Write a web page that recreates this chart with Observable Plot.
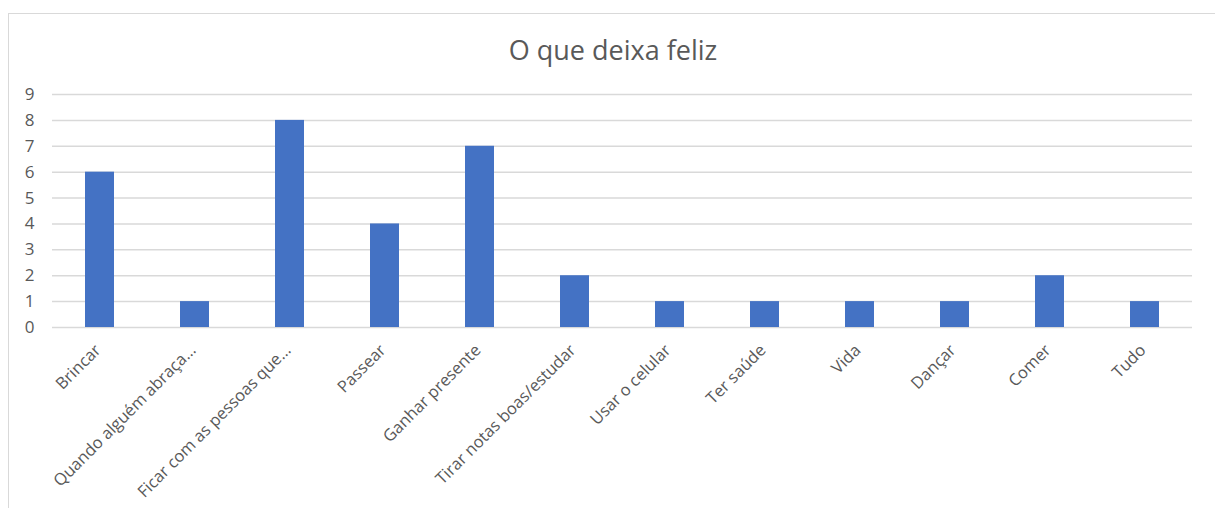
<!DOCTYPE html>
<html>
<head>
<meta charset="utf-8">
<script src="https://cdn.jsdelivr.net/npm/d3@7"></script>
<script src="https://cdn.jsdelivr.net/npm/@observablehq/plot@0.6"></script>
<style>
  html, body { margin: 0; padding: 0; background: #fff; overflow: hidden; }
  #frame { position: absolute; left: 8px; top: 13px; width: 1300px; height: 600px;
           border-top: 1.5px solid #d9d9d9; border-left: 1.5px solid #d9d9d9; box-sizing: border-box; }
  #title { position: absolute; left: 0; top: 36px; width: 1226px; height: 27px; text-align: center;
           font-family: "Open Sans", sans-serif; font-size: 27px; color: #595959; line-height: 27px; }
  #chart { position: absolute; left: 0; top: 74px; }
</style>
</head>
<body>
<div id="frame"></div>
<div id="title">O que deixa feliz</div>
<div id="chart"></div>
<script>
const categories = ["Brincar", "Quando alguém abraça…", "Ficar com as pessoas que…", "Passear", "Ganhar presente",
  "Tirar notas boas/estudar", "Usar o celular", "Ter saúde", "Vida", "Dançar", "Comer", "Tudo"];
const values = [6, 1, 8, 4, 7, 2, 1, 1, 1, 1, 2, 1];
const yTicks = [0, 1, 2, 3, 4, 5, 6, 7, 8, 9];

const data = categories.map((c, i) => ({category: c, value: values[i]}));

const chart = Plot.plot({
  width: 1215,
  height: 434,
  marginLeft: 52,
  marginRight: 23,
  marginTop: 20,
  marginBottom: 181,
  style: {fontFamily: "'Open Sans', sans-serif", fontSize: "16.5px", color: "#595959", background: "transparent"},
  x: {domain: categories, paddingInner: 0.69, paddingOuter: 0.345, label: null},
  y: {domain: [0, 9], ticks: yTicks, label: null, tickFormat: d => d},
  marks: [
    Plot.gridY(yTicks, {stroke: "#d9d9d9", strokeOpacity: 1, strokeWidth: 1.5}),
    Plot.barY(data, {x: "category", y: "value", fill: "#4472C4"}),
    Plot.axisY(yTicks, {tickSize: 0, tickPadding: 18, fontSize: 17, label: null}),
    Plot.axisX({tickSize: 0, tickPadding: 10, tickRotate: -45, dx: -2, dy: 10, label: null})
  ]
});
document.getElementById("chart").appendChild(chart);
</script>
</body>
</html>
